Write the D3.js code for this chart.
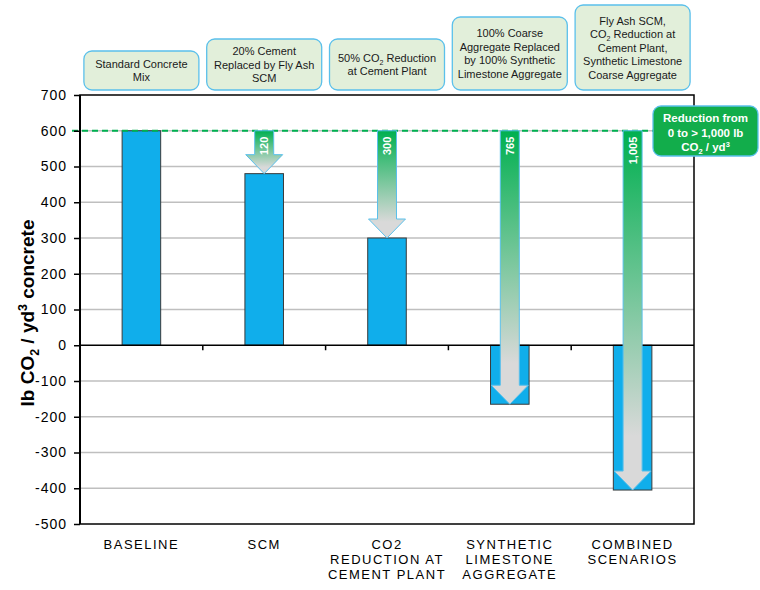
<!DOCTYPE html>
<html>
<head>
<meta charset="utf-8">
<script src="https://cdn.jsdelivr.net/npm/d3@7/dist/d3.min.js"></script>
<style>
  html, body { margin: 0; padding: 0; background: #fff; }
  svg { display: block; font-family: "Liberation Sans", Arial, sans-serif; }
</style>
</head>
<body>
<div id="chart"></div>
<script>
// ---------------- DATA ----------------
const categories = ["BASELINE", "SCM", "CO2 REDUCTION AT CEMENT PLANT", "SYNTHETIC LIMESTONE AGGREGATE", "COMBINED SCENARIOS"];
const categoryLines = [
  ["BASELINE"],
  ["SCM"],
  ["CO2", "REDUCTION AT", "CEMENT PLANT"],
  ["SYNTHETIC", "LIMESTONE", "AGGREGATE"],
  ["COMBINED", "SCENARIOS"]
];
const values = [600, 480, 300, -165, -405];
const baselineValue = 600;
const reductionLabels = ["", "120", "300", "765", "1,005"];
const scenarioNotes = [
  ["Standard Concrete", "Mix"],
  ["20% Cement", "Replaced by Fly Ash", "SCM"],
  ["50% CO_2 Reduction", "at Cement Plant"],
  ["100% Coarse", "Aggregate Replaced", "by 100% Synthetic", "Limestone Aggregate"],
  ["Fly Ash SCM,", "CO_2 Reduction at", "Cement Plant,", "Synthetic Limestone", "Coarse Aggregate"]
];
const yTicks = [-500, -400, -300, -200, -100, 0, 100, 200, 300, 400, 500, 600, 700];
const yAxisTitle = "lb CO_2 / yd^3 concrete";
const calloutLines = ["Reduction from", "0 to > 1,000 lb", "CO_2 / yd^3"];

// ---------------- LAYOUT ----------------
const W = 760, H = 590;
const plot = { left: 80, right: 694, top: 95, bottom: 524 };
const noteTops = [51, 39, 39, 17, 5];
const noteBottom = 90, noteWidth = 115, noteLineH = 13.5;

const svg = d3.select("#chart").append("svg").attr("width", W).attr("height", H);
const defs = svg.append("defs");

const x = d3.scaleBand().domain(categories).range([plot.left, plot.right])
  .paddingInner(0.686).paddingOuter(0.343);
const y = d3.scaleLinear().domain([-500, 700]).range([plot.bottom, plot.top]);

// rich text helper: _d subscript, ^d superscript
function rich(textSel, str, fontSize) {
  const parts = str.split(/(_\d|\^\d)/).filter(s => s.length);
  let shift = 0;
  parts.forEach(p => {
    const t = textSel.append("tspan");
    if (p[0] === "_") {
      const d = fontSize * 0.25;
      t.attr("dy", d - shift).attr("font-size", fontSize * 0.65).text(p.slice(1));
      shift = d;
    } else if (p[0] === "^") {
      const d = -fontSize * 0.38;
      t.attr("dy", d - shift).attr("font-size", fontSize * 0.65).text(p.slice(1));
      shift = d;
    } else {
      t.attr("dy", -shift).text(p);
      shift = 0;
    }
  });
}

// gridlines
svg.append("g").selectAll("line").data(yTicks.filter(v => v !== 0 && v !== 700 && v !== -500)).join("line")
  .attr("x1", plot.left).attr("x2", plot.right)
  .attr("y1", d => y(d)).attr("y2", d => y(d))
  .attr("stroke", "#BFBFBF").attr("stroke-width", 1.5);

// bars
svg.append("g").selectAll("rect").data(values).join("rect")
  .attr("x", (d, i) => x(categories[i]))
  .attr("width", x.bandwidth())
  .attr("y", d => y(Math.max(0, d)))
  .attr("height", d => Math.abs(y(d) - y(0)))
  .attr("fill", "#10AEEB")
  .attr("stroke", "#3A3A3A").attr("stroke-width", 1);

// zero axis
svg.append("line").attr("x1", plot.left).attr("x2", plot.right)
  .attr("y1", y(0)).attr("y2", y(0)).attr("stroke", "#000").attr("stroke-width", 1.5);
const step = x.step();
svg.append("g").selectAll("line").data(categories.slice(1)).join("line")
  .attr("x1", d => x(d) - (step - x.bandwidth()) / 2)
  .attr("x2", d => x(d) - (step - x.bandwidth()) / 2)
  .attr("y1", y(0)).attr("y2", y(0) + 5)
  .attr("stroke", "#000").attr("stroke-width", 1.5);

// baseline dashed line
svg.append("line").attr("x1", 72).attr("x2", 653)
  .attr("y1", y(baselineValue)).attr("y2", y(baselineValue))
  .attr("stroke", "#00B050").attr("stroke-width", 2.2).attr("stroke-dasharray", "6,4");

// arrows
const shaftW = 19, headW = 37, headH = 19;
values.forEach((v, i) => {
  if (i === 0) return;
  const cx = x(categories[i]) + x.bandwidth() / 2;
  const y0 = y(baselineValue), y1 = y(v);
  const gid = "grad" + i;
  const g = defs.append("linearGradient").attr("id", gid)
    .attr("x1", 0).attr("y1", 0).attr("x2", 0).attr("y2", 1);
  g.append("stop").attr("offset", 0).attr("stop-color", "#00B050");
  g.append("stop").attr("offset", 0.85).attr("stop-color", "#D9D9D9");
  g.append("stop").attr("offset", 1).attr("stop-color", "#D9D9D9");
  const p = d3.path();
  p.moveTo(cx - shaftW / 2, y0);
  p.lineTo(cx - shaftW / 2, y1 - headH);
  p.lineTo(cx - headW / 2, y1 - headH);
  p.lineTo(cx, y1);
  p.lineTo(cx + headW / 2, y1 - headH);
  p.lineTo(cx + shaftW / 2, y1 - headH);
  p.lineTo(cx + shaftW / 2, y0);
  p.closePath();
  svg.append("path").attr("d", p.toString())
    .attr("fill", `url(#${gid})`).attr("stroke", "#5BC0EB").attr("stroke-width", 1);
  svg.append("text")
    .attr("transform", `translate(${cx + 4},${y0 + 6}) rotate(-90)`)
    .attr("text-anchor", "end")
    .attr("font-size", 11).attr("font-weight", "bold").attr("fill", "#fff")
    .text(reductionLabels[i]);
});

// frame
svg.append("rect").attr("x", plot.left).attr("y", plot.top)
  .attr("width", plot.right - plot.left).attr("height", plot.bottom - plot.top)
  .attr("fill", "none").attr("stroke", "#000").attr("stroke-width", 1.5);
svg.append("line").attr("x1", plot.left).attr("x2", plot.left)
  .attr("y1", plot.top).attr("y2", plot.bottom).attr("stroke", "#000").attr("stroke-width", 2);

// y axis ticks
const yAxis = d3.axisLeft(y).tickValues(yTicks).tickSize(6).tickPadding(7).tickFormat(d => String(d));
const ya = svg.append("g").attr("transform", `translate(${plot.left},0)`).call(yAxis);
ya.select(".domain").remove();
ya.selectAll(".tick line").attr("stroke", "#000").attr("stroke-width", 1.5);
ya.selectAll(".tick text").attr("font-size", 14).attr("fill", "#000")
  .attr("font-family", '"Liberation Sans", Arial, sans-serif').style("letter-spacing", "1px");

// y title
const yt = svg.append("text")
  .attr("transform", `translate(34,313) rotate(-90)`)
  .attr("text-anchor", "middle").attr("font-size", 19).attr("font-weight", "bold").attr("fill", "#000");
rich(yt, yAxisTitle, 19);

// x category labels
categoryLines.forEach((lines, i) => {
  const cx = x(categories[i]) + x.bandwidth() / 2;
  lines.forEach((ln, j) => {
    svg.append("text").attr("x", cx).attr("y", 549 + j * 15)
      .attr("text-anchor", "middle").attr("font-size", 13).attr("fill", "#000")
      .style("letter-spacing", "1.5px")
      .text(ln);
  });
});

// scenario notes boxes
scenarioNotes.forEach((lines, i) => {
  const cx = x(categories[i]) + x.bandwidth() / 2;
  const top = noteTops[i];
  svg.append("rect").attr("x", cx - noteWidth / 2).attr("y", top)
    .attr("width", noteWidth).attr("height", noteBottom - top)
    .attr("rx", 8).attr("fill", "#E2EFDA").attr("stroke", "#5BC0EB").attr("stroke-width", 1.3);
  const mid = (top + noteBottom) / 2;
  const start = mid - (lines.length - 1) * noteLineH / 2;
  lines.forEach((ln, j) => {
    const t = svg.append("text").attr("x", cx).attr("y", start + j * noteLineH + 4)
      .attr("text-anchor", "middle").attr("font-size", 11).attr("fill", "#1a1a1a");
    rich(t, ln, 11);
  });
});

// callout box
const cb = { x: 653, y: 106, w: 105, h: 50 };
svg.append("rect").attr("x", cb.x).attr("y", cb.y).attr("width", cb.w).attr("height", cb.h)
  .attr("rx", 8).attr("fill", "#12AD4B").attr("stroke", "#5BC0EB").attr("stroke-width", 1.3);
calloutLines.forEach((ln, j) => {
  const t = svg.append("text").attr("x", cb.x + cb.w / 2).attr("y", cb.y + 16 + j * 14.5)
    .attr("text-anchor", "middle").attr("font-size", 11.5).attr("font-weight", "bold").attr("fill", "#fff");
  rich(t, ln, 11.5);
});
</script>
</body>
</html>
